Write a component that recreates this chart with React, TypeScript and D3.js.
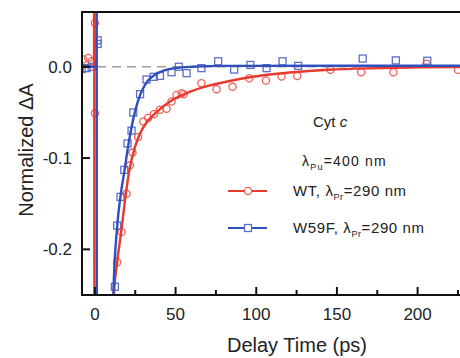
import * as React from 'react'
import { useEffect, useRef } from 'react'
import * as d3 from 'd3'

// measured points, [delay ps, normalized dA]
const wtPoints: [number, number][] = [
  [-7.2, 0.008], [-4.1, 0.0096], [-2, 0.006], [0, 0.048], [0, -0.051],
  [13.8, -0.214], [16.5, -0.181], [19.6, -0.139], [21.7, -0.108], [23.3, -0.094],
  [26.8, -0.077], [30, -0.06], [33, -0.056], [36.5, -0.052], [40.3, -0.047],
  [44.4, -0.046], [47.5, -0.038], [50.6, -0.031], [53.7, -0.029], [55, -0.03],
  [66, -0.018], [75.4, -0.0245], [85.3, -0.022], [95.6, -0.0125], [106, -0.015],
  [115.7, -0.0106], [125.4, -0.01], [146, -0.0033], [165, -0.006], [185, -0.006],
  [205.5, 0.0033], [225, -0.0033],
]

const w59fPoints: [number, number][] = [
  [-8.2, -0.0025], [-5.1, -0.0015], [-2, 0], [1.7, 0.029], [1.7, 0.025],
  [12.4, -0.241], [13.8, -0.174], [15.9, -0.1425], [18.2, -0.113], [20.2, -0.084],
  [22.7, -0.07], [23.8, -0.05], [28, -0.03], [32, -0.014], [36.5, -0.011],
  [40.3, -0.01], [47.5, -0.006], [52, 0], [56.8, -0.007], [66, -0.0015],
  [76.4, 0.006], [86.3, -0.003], [96.4, 0.002], [106.4, -0.0015], [116.3, 0.006],
  [126, 0.001], [166, 0.009], [186.5, 0.007], [206, 0.0066],
]

// fit curves
const wtFit: [number, number][] = [
  [-8, 0], [-0.6, 0], [-0.4, 0.08], [-0.3, -0.3], [11, -0.3], [11.8, -0.251],
  [13.8, -0.214], [16.5, -0.178], [19.2, -0.139], [21, -0.117], [24.8, -0.088],
  [28, -0.073], [32, -0.061], [38, -0.05], [47.5, -0.037], [58, -0.028],
  [70, -0.021], [85, -0.015], [95, -0.0117], [110, -0.0082], [125, -0.0057],
  [145, -0.0033], [170, -0.0017], [200, -0.0007], [230, -0.0002],
]

const w59fFit: [number, number][] = [
  [-8, 0], [0.9, 0], [1.1, 0.08], [1.2, -0.3], [10.8, -0.3], [11.4, -0.251],
  [13.8, -0.175], [16, -0.14], [18.4, -0.113], [20.5, -0.088], [22.3, -0.07],
  [25, -0.048], [28, -0.031], [31, -0.02], [34, -0.013], [38, -0.008],
  [43, -0.004], [50, -0.0015], [60, 0], [80, 0.001], [230, 0.0012],
]

const xTicks = [0, 50, 100, 150, 200]
const xMinorTicks = [25, 75, 125, 175, 225]
const yTicks = [0, -0.1, -0.2]

const RED = '#e8392f'
const RED_MK = '#f06458'
const BLUE = '#2f4fbf'
const BLUE_MK = '#5d70c8'
const FONT = '"Liberation Sans", Arial, Helvetica, sans-serif'

export default function App() {
  const svgRef = useRef<SVGSVGElement>(null)

  useEffect(() => {
    if (!svgRef.current) return
    const svg = d3.select(svgRef.current)
    svg.selectAll('*').remove()

    const left = 82, right = 466, top = 12, bottom = 295
    const x = d3.scaleLinear().domain([-8, 230]).range([left, right])
    const y = d3.scaleLinear().domain([-0.25, 0.06]).range([bottom, top])

    // clip only vertically; the right side just runs off the page
    svg.append('defs').append('clipPath').attr('id', 'plot')
      .append('rect').attr('x', left).attr('y', top)
      .attr('width', 600).attr('height', bottom - top)

    const g = svg.append('g').attr('clip-path', 'url(#plot)')

    // zero reference
    g.append('line')
      .attr('x1', left).attr('x2', right)
      .attr('y1', y(0)).attr('y2', y(0))
      .attr('stroke', '#a89a9a').attr('stroke-width', 1.6)
      .attr('stroke-dasharray', '9,6')

    const line = d3.line<[number, number]>()
      .x(d => x(d[0])).y(d => y(d[1]))
      .curve(d3.curveMonotoneX)

    // markers
    g.selectAll('circle.wt').data(wtPoints).join('circle')
      .attr('class', 'wt')
      .attr('cx', d => x(d[0])).attr('cy', d => y(d[1]))
      .attr('r', 3.6).attr('fill', 'none')
      .attr('stroke', RED_MK).attr('stroke-width', 1.3)

    g.selectAll('rect.w59f').data(w59fPoints).join('rect')
      .attr('class', 'w59f')
      .attr('x', d => x(d[0]) - 3.5).attr('y', d => y(d[1]) - 3.5)
      .attr('width', 7).attr('height', 7).attr('fill', 'none')
      .attr('stroke', BLUE_MK).attr('stroke-width', 1.3)

    g.append('path').datum(wtFit)
      .attr('d', line).attr('fill', 'none')
      .attr('stroke', RED).attr('stroke-width', 2.4)

    g.append('path').datum(w59fFit)
      .attr('d', line).attr('fill', 'none')
      .attr('stroke', BLUE).attr('stroke-width', 2.4)

    // frame
    const frame = svg.append('g').attr('stroke', '#111').attr('stroke-width', 2)
    frame.append('line').attr('x1', left).attr('x2', left).attr('y1', top - 1).attr('y2', bottom + 1)
    frame.append('line').attr('x1', left - 1).attr('x2', right).attr('y1', bottom).attr('y2', bottom)
    frame.append('line').attr('x1', left - 1).attr('x2', right).attr('y1', top).attr('y2', top)

    frame.selectAll('line.xt').data(xTicks).join('line')
      .attr('class', 'xt')
      .attr('x1', d => x(d)).attr('x2', d => x(d))
      .attr('y1', bottom).attr('y2', bottom - 8)
    frame.selectAll('line.xm').data(xMinorTicks).join('line')
      .attr('class', 'xm')
      .attr('x1', d => x(d)).attr('x2', d => x(d))
      .attr('y1', bottom).attr('y2', bottom - 5)
    frame.selectAll('line.yt').data(yTicks).join('line')
      .attr('class', 'yt')
      .attr('x1', left).attr('x2', left + 8)
      .attr('y1', d => y(d)).attr('y2', d => y(d))

    // tick labels
    svg.selectAll('text.xl').data(xTicks).join('text')
      .attr('class', 'xl')
      .attr('x', d => x(d)).attr('y', 320)
      .attr('text-anchor', 'middle')
      .attr('font-family', FONT).attr('font-size', 17).attr('fill', '#222')
      .text(d => String(d))

    svg.selectAll('text.yl').data(yTicks).join('text')
      .attr('class', 'yl')
      .attr('x', 72).attr('y', d => y(d) + 6)
      .attr('text-anchor', 'end')
      .attr('font-family', FONT).attr('font-size', 17).attr('fill', '#222')
      .text(d => d3.format('.1f')(d).replace('−', '-'))

    // axis titles
    svg.append('text')
      .attr('x', 297).attr('y', 352)
      .attr('text-anchor', 'middle')
      .attr('font-family', FONT).attr('font-size', 20).attr('fill', '#222')
      .text('Delay Time (ps)')

    svg.append('text')
      .attr('transform', 'translate(33,150) rotate(-90)')
      .attr('text-anchor', 'middle')
      .attr('font-family', FONT).attr('font-size', 20).attr('fill', '#222')
      .text('Normalized ΔA')

    // legend
    const lg = svg.append('g').attr('font-family', FONT).attr('fill', '#222')
    const cyt = lg.append('text').attr('x', 313).attr('y', 127).attr('font-size', 15)
    cyt.append('tspan').text('Cyt ')
    cyt.append('tspan').attr('font-style', 'italic').text('c')

    const pump = lg.append('text').attr('x', 302).attr('y', 166)
      .attr('font-size', 14).attr('letter-spacing', 1.2)
    pump.append('tspan').text('λ')
    pump.append('tspan').attr('font-size', 9).attr('dy', 4).text('Pu')
    pump.append('tspan').attr('dy', -4).text('=400 nm')

    const rows = [
      { label: 'WT, ', color: RED, mk: RED_MK, shape: 'circle', cy: 191 },
      { label: 'W59F, ', color: BLUE, mk: BLUE_MK, shape: 'square', cy: 228 },
    ]
    rows.forEach(r => {
      lg.append('line')
        .attr('x1', 228).attr('x2', 267).attr('y1', r.cy).attr('y2', r.cy)
        .attr('stroke', r.color).attr('stroke-width', 2)
      if (r.shape === 'circle') {
        lg.append('circle').attr('cx', 248).attr('cy', r.cy).attr('r', 3.6)
          .attr('fill', 'white').attr('stroke', r.mk).attr('stroke-width', 1.3)
      } else {
        lg.append('rect').attr('x', 244.5).attr('y', r.cy - 3.5)
          .attr('width', 7).attr('height', 7)
          .attr('fill', 'white').attr('stroke', r.mk).attr('stroke-width', 1.3)
      }
      const t = lg.append('text').attr('x', 293).attr('y', r.cy + 5)
        .attr('font-size', 15).attr('letter-spacing', 0.6)
      t.append('tspan').text(r.label + 'λ')
      t.append('tspan').attr('font-size', 9).attr('dy', 4).text('Pr')
      t.append('tspan').attr('dy', -4).text('=290 nm')
    })
  }, [])

  return (
    <svg
      ref={svgRef}
      width={460}
      height={358}
      style={{ position: 'absolute', left: 0, top: 0, background: 'white' }}
    />
  )
}
